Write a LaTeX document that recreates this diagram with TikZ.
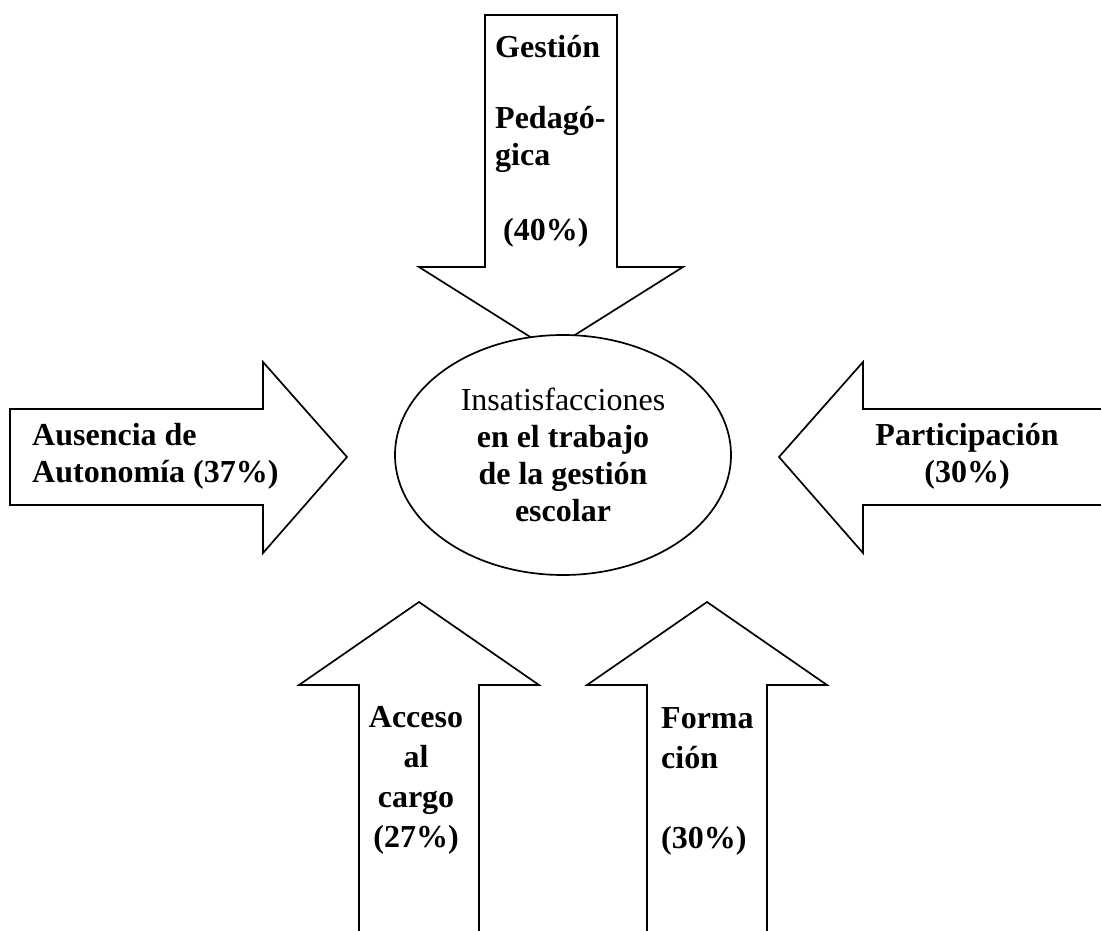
\documentclass[tikz,border=0pt]{standalone}
\usepackage{fontspec}
\setmainfont{Liberation Serif}
\usetikzlibrary{positioning,shapes.geometric}

\begin{document}
\begin{tikzpicture}[x=1pt, y=-1pt,
  blk/.style={draw=black, line width=1.7pt, fill=white, line join=miter},
  lbl/.style={inner sep=0pt, font=\fontsize{32}{37}\selectfont\bfseries},
  lblw/.style={inner sep=0pt, font=\fontsize{32}{40}\selectfont\bfseries}
]
  \useasboundingbox (0,0) rectangle (1101,931);

  %% Top arrow: Gestion pedagogica
  \draw[blk] (485,15) -- (617,15) -- (617,267) -- (683,267) -- (551,350)
    -- (419,267) -- (485,267) -- cycle;
  \node[lbl, anchor=north west, align=left] (gp) at (495,35)
    {Gestión\\[34pt]Pedagó-\\gica\\[38pt]\hspace*{8pt}(40\%)};

  %% Central ellipse
  \node[draw, line width=1.7pt, fill=white, ellipse, minimum width=336pt,
    minimum height=240pt, inner sep=0pt, align=center,
    font=\fontsize{32}{37}\selectfont] (ctr) at (563,455)
    {Insatisfacciones\\\textbf{en el trabajo}\\\textbf{de la gestión}\\\textbf{escolar}};

  %% Left arrow: Autonomia
  \draw[blk] (10,409) -- (263,409) -- (263,362) -- (347,457) -- (263,553)
    -- (263,505) -- (10,505) -- cycle;
  \node[lbl, anchor=north west, align=left] (au) at (32,423)
    {Ausencia de\\Autonomía (37\%)};

  %% Right arrow: Participacion
  \draw[blk] (1101,409) -- (863,409) -- (863,362) -- (779,457) -- (863,553)
    -- (863,505) -- (1101,505);
  \node[lbl, anchor=north, align=center] (pa) at (967,423)
    {Participación\\(30\%)};

  %% Bottom left arrow: Acceso al cargo
  \draw[blk] (359,931) -- (359,685) -- (299,685) -- (419,602) -- (539,685)
    -- (479,685) -- (479,931);
  \node[lblw, anchor=north, align=center] (ac) at (416,706)
    {Acceso\\al\\cargo\\(27\%)};

  %% Bottom right arrow: Formacion
  \draw[blk] (647,931) -- (647,685) -- (587,685) -- (707,602) -- (827,685)
    -- (767,685) -- (767,931);
  \node[lblw, anchor=north west, align=left] (fo) at (661,707)
    {Forma\\ción\\[40pt](30\%)};
\end{tikzpicture}
\end{document}
